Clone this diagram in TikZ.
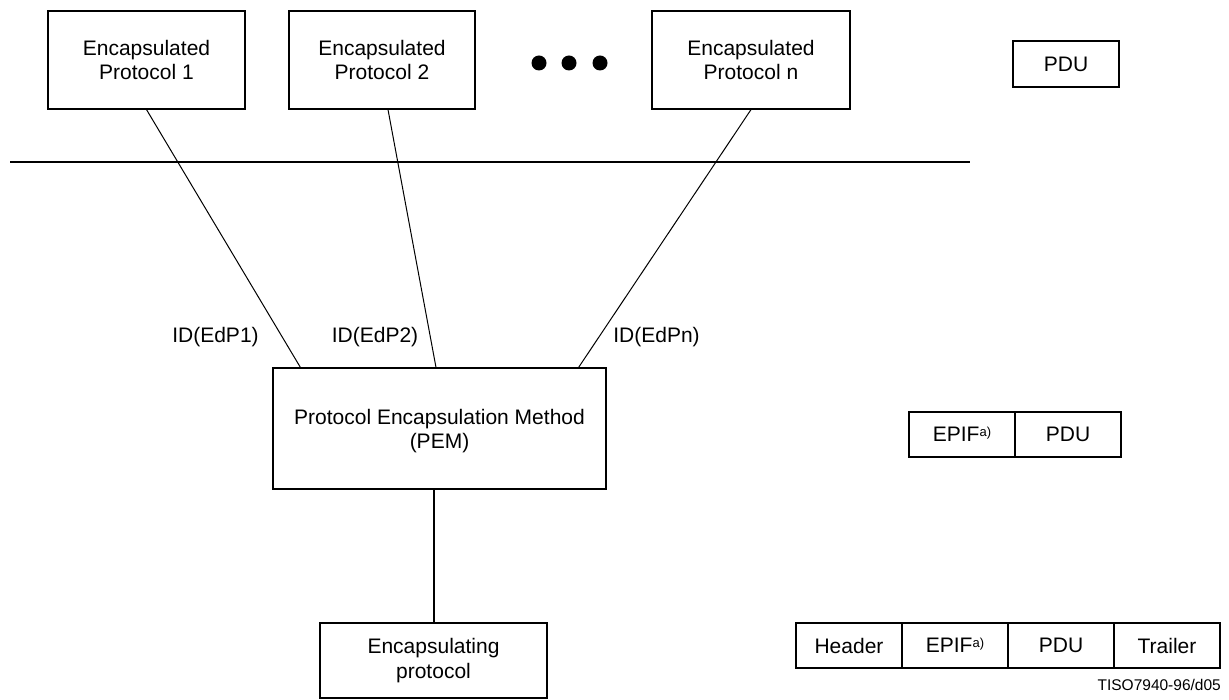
\documentclass[tikz,border=0pt]{standalone}
\usepackage{fontspec}
\setmainfont{Liberation Sans}
\usetikzlibrary{calc}
\newcommand{\supa}{\raisebox{5pt}{\fontsize{13}{13}\selectfont a)}}
\tikzset{
  txt/.style={font=\fontsize{21}{24.5}\selectfont, align=center, inner sep=0pt},
  box/.style={txt, draw=black, line width=1.2pt, rectangle},
  cell/.style={box, minimum width=106, minimum height=45},
  link/.style={draw=black, line width=1pt},
  heavy/.style={draw=black, line width=2.2pt},
  lbl/.style={txt, anchor=base},
}
\begin{document}
\begin{tikzpicture}[x=1pt,y=-1pt]
\useasboundingbox (0,0) rectangle (1229,700);

% encapsulated protocols
\node[box, minimum width=197, minimum height=98] (ep1) at (146.5,60) {Encapsulated\\Protocol 1};
\node[box, minimum width=186, minimum height=98] (ep2) at (382,60) {Encapsulated\\Protocol 2};
\node[box, minimum width=198, minimum height=98] (epn) at (751,60) {Encapsulated\\Protocol n};

% ellipsis dots
\fill (539,63) circle (7.5) (569,63) circle (7.5) (600,63) circle (7.5);

% layer boundary
\coordinate (hl) at (10,162);
\coordinate (hr) at (970,162);
\draw[heavy] (hl) -- (hr);

% method and encapsulating protocol
\node[box, minimum width=333, minimum height=121] (pem) at (439.5,428.5) {};
\node[txt] (pemtext) at (439.5,431) {Protocol Encapsulation Method\\(PEM)};
\node[box, minimum width=227, minimum height=75] (enc) at (433.5,660.5) {Encapsulating\\protocol};

% identifier links
\draw[link] (ep1.south) -- ([xshift=28pt]pem.north west);
\draw[link] ([xshift=6pt]ep2.south) -- ([xshift=-3.5pt]pem.north);
\draw[link] (epn.south) -- ([xshift=-28pt]pem.north east);
\node[lbl] (id1) at (215.5,343) {ID(EdP1)};
\node[lbl] (id2) at (375,343) {ID(EdP2)};
\node[lbl] (idn) at (656.5,343) {ID(EdPn)};

\draw[heavy, line width=2pt] (enc.north |- pem.south) -- (enc.north);

% PDU formats
\node[box, minimum width=106, minimum height=46] (pdu1) at (1066,64) {PDU};

\node[cell] (epif2) at (962,434.5) {EPIF\supa};
\node[cell] (pdu2) at (1068,434.5) {PDU};

\node[cell] (hdr) at (849,645.5) {Header};
\node[cell] (epif3) at (955,645.5) {EPIF\supa};
\node[cell] (pdu3) at (1061,645.5) {PDU};
\node[cell] (trl) at (1167,645.5) {Trailer};

\node[txt, anchor=base east, font=\fontsize{15.5}{18}\selectfont] (fig) at (1221,690) {TISO7940-96/d05};
\end{tikzpicture}
\end{document}
